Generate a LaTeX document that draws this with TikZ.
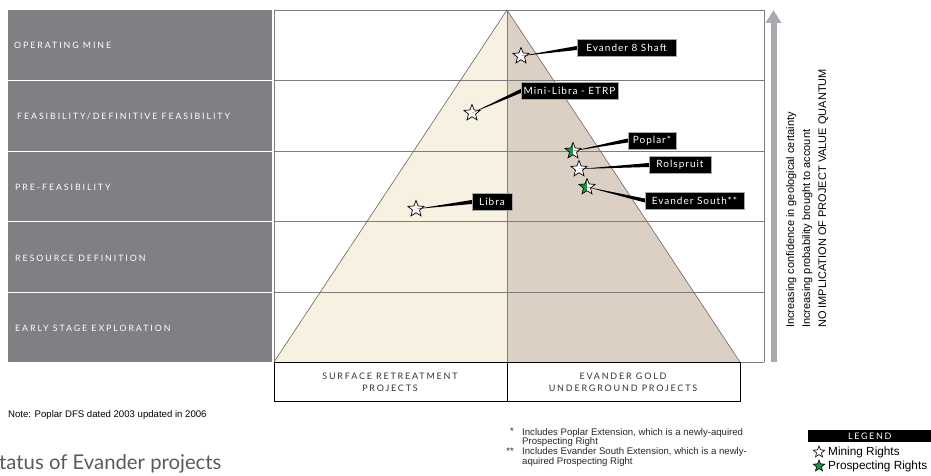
\documentclass[tikz,border=0pt]{standalone}
\usepackage{fontspec}
\setmainfont{Liberation Sans}
\newfontfamily\labfont[LetterSpace=10]{Lato}
\newfontfamily\bandfont[LetterSpace=22]{Lato}
\newfontfamily\boxfont[LetterSpace=20]{Lato}
\newfontfamily\legfont[LetterSpace=18]{Lato}
\newfontfamily\titlefont{Lato}
\usetikzlibrary{shapes.geometric,arrows.meta}
\definecolor{bandgray}{RGB}{128,128,132}
\definecolor{gridgray}{RGB}{125,125,125}
\definecolor{cream}{RGB}{246,241,225}
\definecolor{taupe}{RGB}{220,208,196}
\definecolor{edgecol}{RGB}{110,100,92}
\definecolor{arrowgray}{RGB}{170,170,174}
\definecolor{pgreen}{RGB}{24,150,72}
\definecolor{titlegray}{RGB}{90,90,90}
\tikzset{
  tag/.style={fill=black, text=white, draw=gray!70, line width=0.5pt, inner sep=0pt,
    minimum height=17pt, font=\labfont\fontsize{10}{11}\selectfont},
  starnode/.style={star, star points=5, star point ratio=2.3, minimum size=17pt,
    inner sep=0pt, draw=black, line width=0.7pt, fill=white},
  halfgreen/.style={path picture={\fill[pgreen] (path picture bounding box.south west) rectangle (path picture bounding box.north);}},
  bandlabel/.style={anchor=west, text=white, inner sep=0pt, font=\bandfont\fontsize{8.8}{9}\selectfont},
  boxlabel/.style={align=center, text=black!80, inner sep=0pt, font=\boxfont\fontsize{9}{12}\selectfont},
  gridline/.style={draw=gridgray, line width=0.9pt},
  smalltext/.style={inner sep=0pt, text=black!85, font=\fontsize{9.6}{9.8}\selectfont}
}
\newcommand{\leaderline}[2]{\fill[black] (#1.center) -- ([yshift=2pt]#2.west) -- ([yshift=-2pt]#2.west) -- cycle;}
\begin{document}
\begin{tikzpicture}[x=1pt,y=-1pt]
\useasboundingbox (0,0) rectangle (931,476);
% left band
\fill[bandgray] (8,10) rectangle (272,362);
\foreach \yy in {80.5,151.5,221.5,292.5} \draw[white, line width=1.2pt] (8,\yy) -- (272,\yy);
\node[bandlabel] (r1) at (14,45.5) {OPERATING MINE};
\node[bandlabel] (r2) at (17,116) {FEASIBILITY/DEFINITIVE FEASIBILITY};
\node[bandlabel] (r3) at (15,187) {PRE-FEASIBILITY};
\node[bandlabel] (r4) at (15,258.5) {RESOURCE DEFINITION};
\node[bandlabel] (r5) at (15,328) {EARLY STAGE EXPLORATION};
% pyramid
\coordinate (apex) at (507,10);
\coordinate (bl) at (274,362);
\coordinate (bm) at (507,362);
\coordinate (br) at (740,362);
\fill[cream] (apex) -- (bl) -- (bm) -- cycle;
\fill[taupe] (apex) -- (bm) -- (br) -- cycle;
% grid
\foreach \yy in {10,80.5,151,221.5,292,362} \draw[gridline] (274,\yy) -- (764,\yy);
\draw[gridline] (274,10) -- (274,362);
\draw[gridline] (764,10) -- (764,362);
\draw[gridline] (507,10) -- (507,362);
\draw[edgecol, line width=0.6pt] (bl) -- (apex) -- (br);
% bottom boxes
\draw[black, line width=0.7pt] (274,362) rectangle (740,401);
\draw[black, line width=0.7pt] (507,362) -- (507,401);
\node[boxlabel] (surf) at (390,382) {SURFACE RETREATMENT\\PROJECTS};
\node[boxlabel] (evg) at (623,382) {EVANDER GOLD\\UNDERGROUND PROJECTS};
% arrow
\coordinate (arrB) at (773.5,362);
\coordinate (arrT) at (773.5,10);
\draw[arrowgray, line width=6pt, -{Triangle[width=15pt,length=13pt]}] (arrB) -- (arrT);
\node[rotate=90, anchor=north west, align=left, inner sep=0pt, font=\fontsize{11}{16}\selectfont] (conf) at (786,328)
  {Increasing confidence in geological certainty\\Increasing probability brought to account\\NO IMPLICATION OF PROJECT VALUE QUANTUM};
% stars
\node[starnode] (s8) at (521,56) {};
\node[starnode] (sml) at (472,113) {};
\node[starnode] (slb) at (416,209) {};
\node[starnode, halfgreen] (spo) at (573,151) {};
\node[starnode] (sro) at (579,169) {};
\node[starnode, halfgreen] (ses) at (587,187) {};
% tags
\node[tag, minimum width=99pt] (t8) at (626.5,48) {Evander 8 Shaft};
\node[tag, minimum width=97pt] (tml) at (569.5,91) {Mini-Libra - ETRP};
\node[tag, minimum width=40pt] (tlb) at (492,202) {Libra};
\node[tag, minimum width=48pt] (tpo) at (652,140.5) {Poplar*};
\node[tag, minimum width=62pt] (tro) at (680,165) {Rolspruit};
\node[tag, minimum width=99pt] (tes) at (694.5,200.5) {Evander South**};
\leaderline{s8}{t8}
\leaderline{sml}{tml}
\leaderline{slb}{tlb}
\leaderline{spo}{tpo}
\leaderline{sro}{tro}
\leaderline{ses}{tes}
% notes
\node[anchor=west, smalltext, text=black] (note) at (8,415) {Note: Poplar DFS dated 2003 updated in 2006};
\node[anchor=west, inner sep=0pt, text=titlegray, font=\titlefont\fontsize{20.3}{22}\selectfont] (ttl) at (-1,464) {tatus of Evander projects};
\node[anchor=north west, align=left, smalltext] (fn1) at (522,428) {Includes Poplar Extension, which is a newly-aquired\\Prospecting Right};
\node[anchor=north east, smalltext] (fs1) at (514,428) {*};
\node[anchor=north west, align=left, smalltext] (fn2) at (522,447.5) {Includes Evander South Extension, which is a newly-\\aquired Prospecting Right};
\node[anchor=north east, smalltext] (fs2) at (514,447.5) {**};
% legend
\node[fill=black, text=white, anchor=north west, minimum width=123pt, minimum height=12.5pt, inner sep=0pt, font=\legfont\fontsize{9}{10}\selectfont] (leg) at (808,429.5) {LEGEND};
\node[starnode, minimum size=12pt, line width=0.6pt] (lgm) at (819,452) {};
\node[starnode, minimum size=12pt, line width=0.6pt, fill=pgreen] (lgp) at (819,466) {};
\node[anchor=west, inner sep=0pt, font=\fontsize{11.8}{12}\selectfont] (lgmt) at (828,452) {Mining Rights};
\node[anchor=west, inner sep=0pt, font=\fontsize{11.8}{12}\selectfont] (lgpt) at (828,466) {Prospecting Rights};
\end{tikzpicture}
\end{document}
